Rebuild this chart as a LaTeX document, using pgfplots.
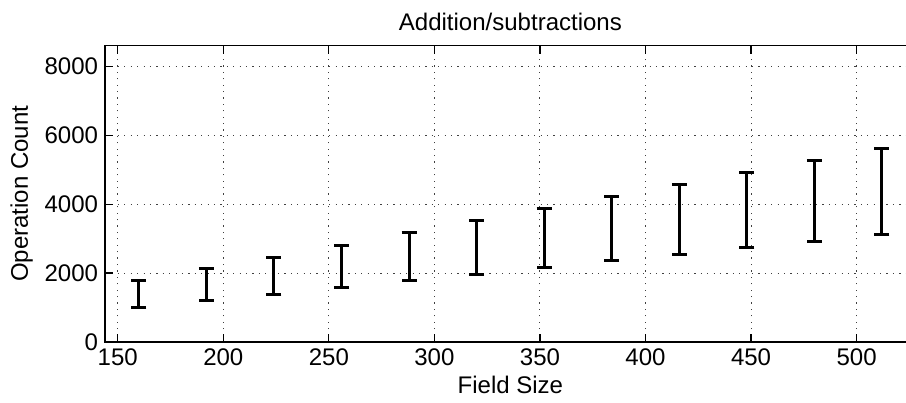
\documentclass[border=0pt]{standalone}
\usepackage{pgfplots}
\pgfplotsset{compat=1.18}
\usepackage{fontspec}
\setmainfont{Liberation Sans}

\begin{document}
\begin{tikzpicture}
\begin{axis}[
    scale only axis, width=405pt, height=148pt,
    xmin=144, xmax=528, ymin=0, ymax=8600,
    xtick={150,200,...,500}, ytick={0,2000,...,8000},
    tick align=inside, major tick length=4pt,
    xtick pos=both, ytick pos=left,
    axis line style={line width=0.6pt},
    grid=major,
    grid style={black!75, line width=0.5pt, dash pattern=on 0.6pt off 2.6pt},
    every tick/.style={black, line width=0.6pt},
    /pgf/number format/assume math mode=true,
    /pgf/number format/1000 sep={},
    tick label style={font=\fontsize{12}{14}\selectfont},
    label style={font=\fontsize{12}{14}\selectfont},
    title style={font=\fontsize{12}{14}\selectfont, yshift=-2pt},
    title={Addition/subtractions},
    xlabel={Field Size}, ylabel={Operation Count},
    xlabel style={yshift=2pt},
    ylabel style={yshift=-1pt},
]
\addplot[draw=none, mark=none,
    error bars/.cd, y dir=both, y explicit,
    error mark=|,
    error bar style={draw=black, line width=1.5pt, solid},
    error mark options={draw=black, line width=1.5pt, mark size=3.75pt, solid}]
    table[x=x, y=y, y error=e] {
    x    y       e
    160  1384.5  386.5
    192  1660.5  458.5
    224  1917.5  532.5
    256  2193    614
    288  2473.5  702.5
    320  2734    778
    352  3010.5  850.5
    384  3290    939
    416  3557.5  1020.5
    448  3827.5  1098.5
    480  4094    1180
    512  4378.5  1252.5
};
\coordinate (SW) at (rel axis cs:0,0);
\coordinate (NE) at (axis cs:523.4,8600);
\end{axis}
\pgfresetboundingbox
\path[use as bounding box] ([xshift=-52.5pt, yshift=-30pt]SW) rectangle ([yshift=22.85pt]NE);
\end{tikzpicture}
\end{document}
